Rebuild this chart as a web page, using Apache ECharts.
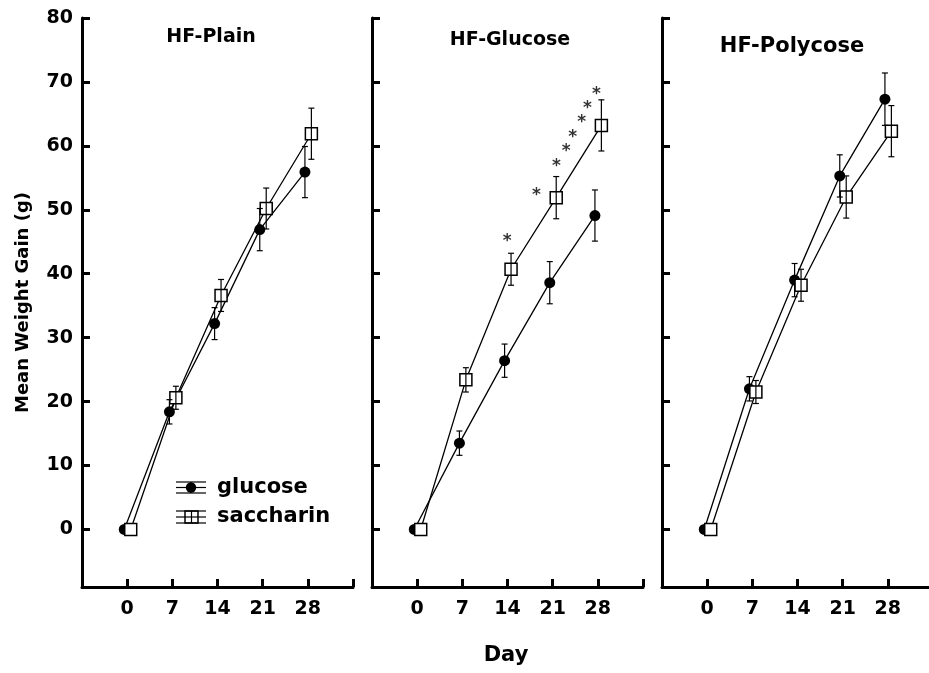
<!DOCTYPE html>
<html>
<head>
	<meta charset="utf-8"/>
	<title>Mean Weight Gain</title>
	<style>
		html, body {
			margin: 0;
			padding: 0;
			background: #fff;
			overflow: hidden;
		}
		/* a little wider than the window: the last panel's axis runs off the right edge */
		#chart {
			width: 940px;
			height: 673px;
		}
	</style>
</head>
<body>
	<div id="chart"></div>

	<script src="https://cdn.jsdelivr.net/npm/echarts@6/dist/echarts.min.js"></script>
	<script>
		// measurement days
		const days = [0, 7, 14, 21, 28];
		const panelTitles = ['HF-Plain', 'HF-Glucose', 'HF-Polycose'];

		// HF-Plain
		const plainGlucose = [0, 18.4, 32.2, 46.9, 55.9];
		const plainGlucoseErr = [0, 1.9, 2.5, 3.3, 4.0];
		const plainSaccharin = [0, 20.6, 36.6, 50.2, 61.9];
		const plainSaccharinErr = [0, 1.8, 2.5, 3.2, 4.0];

		// HF-Glucose
		const glucGlucose = [0, 13.5, 26.4, 38.6, 49.1];
		const glucGlucoseErr = [0, 1.9, 2.6, 3.3, 4.0];
		const glucSaccharin = [0, 23.4, 40.7, 51.9, 63.2];
		const glucSaccharinErr = [0, 1.9, 2.5, 3.3, 4.0];

		// HF-Polycose
		const polyGlucose = [0, 22.0, 39.0, 55.3, 67.3];
		const polyGlucoseErr = [0, 1.9, 2.6, 3.3, 4.1];
		const polySaccharin = [0, 21.5, 38.2, 52.0, 62.3];
		const polySaccharinErr = [0, 1.8, 2.5, 3.3, 4.0];

		// significance marks in the HF-Glucose panel (day, gain)
		const starDays = [13.95, 18.5, 21.6, 23.1, 24.1, 25.5, 26.4, 27.8];
		const starGains = [45.7, 52.8, 57.4, 59.8, 62.0, 64.2, 66.4, 68.6];

		const FONT = 'DejaVu Sans';
		// the two groups are drawn a little apart on the day axis
		const GLU_SHIFT = -0.45;
		const SAC_SHIFT = 0.55;

		const panels = [
			{glu: plainGlucose, gluErr: plainGlucoseErr, sac: plainSaccharin, sacErr: plainSaccharinErr},
			{glu: glucGlucose, gluErr: glucGlucoseErr, sac: glucSaccharin, sacErr: glucSaccharinErr},
			{glu: polyGlucose, gluErr: polyGlucoseErr, sac: polySaccharin, sacErr: polySaccharinErr}
		];
		const gridLefts = [82, 372, 662];

		const axisLineStyle = {color: '#000', width: 3};

		function errorBarItem(params, api){
			const x = api.value(0);
			const lo = api.coord([x, api.value(1)]);
			const hi = api.coord([x, api.value(2)]);
			const half = 3;
			const style = {stroke: '#000', lineWidth: 1.2};
			return {
				type: 'group',
				children: [
					{type: 'line', shape: {x1: hi[0], y1: hi[1], x2: lo[0], y2: lo[1]}, style: style},
					{type: 'line', shape: {x1: hi[0] - half, y1: hi[1], x2: hi[0] + half, y2: hi[1]}, style: style},
					{type: 'line', shape: {x1: lo[0] - half, y1: lo[1], x2: lo[0] + half, y2: lo[1]}, style: style}
				]
			};
		}

		function errData(vals, errs, shift){
			const out = [];
			days.forEach((d, k) => {
				if(errs[k] > 0) out.push([d + shift, vals[k] - errs[k], vals[k] + errs[k]]);
			});
			return out;
		}

		const grids = [], xAxes = [], yAxes = [], series = [];
		panels.forEach((p, i) => {
			grids.push({left: gridLefts[i], top: 18, width: 271, height: 569});
			xAxes.push({
				gridIndex: i,
				type: 'value',
				min: -7,
				max: 35,
				interval: 7,
				axisLine: {show: true, onZero: false, lineStyle: axisLineStyle},
				axisTick: {show: true, inside: true, length: 8, lineStyle: axisLineStyle},
				axisLabel: {
					margin: 13,
					fontSize: 19,
					fontWeight: 'bold',
					fontFamily: FONT,
					color: '#000',
					formatter: v => (v < 0 || v > 28) ? '' : String(v)
				},
				splitLine: {show: false}
			});
			yAxes.push({
				gridIndex: i,
				type: 'value',
				min: -9,
				max: 80,
				splitNumber: 9,
				name: i === 0 ? 'Mean Weight Gain (g)' : '',
				nameLocation: 'middle',
				nameGap: 50,
				nameTextStyle: {fontSize: 18, fontWeight: 'bold', fontFamily: FONT, color: '#000'},
				axisLine: {show: true, onZero: false, lineStyle: axisLineStyle},
				axisTick: {show: true, inside: true, length: 8, lineStyle: axisLineStyle},
				axisLabel: {
					show: i === 0,
					margin: 9,
					fontSize: 19,
					fontWeight: 'bold',
					fontFamily: FONT,
					color: '#000',
					formatter: v => v < 0 ? '' : String(v)
				},
				splitLine: {show: false}
			});

			series.push({
				type: 'line',
				xAxisIndex: i,
				yAxisIndex: i,
				data: days.map((d, k) => [d + GLU_SHIFT, p.glu[k]]),
				symbol: 'circle',
				symbolSize: 11,
				showSymbol: true,
				showAllSymbol: true,
				itemStyle: {color: '#000'},
				lineStyle: {color: '#000', width: 1.3},
				z: 3
			});
			series.push({
				type: 'custom',
				xAxisIndex: i,
				yAxisIndex: i,
				renderItem: errorBarItem,
				encode: {x: 0, y: [1, 2]},
				data: errData(p.glu, p.gluErr, GLU_SHIFT),
				z: 4
			});
			series.push({
				type: 'line',
				xAxisIndex: i,
				yAxisIndex: i,
				data: days.map((d, k) => [d + SAC_SHIFT, p.sac[k]]),
				symbol: 'rect',
				symbolSize: 12,
				showSymbol: true,
				showAllSymbol: true,
				itemStyle: {color: '#fff', borderColor: '#000', borderWidth: 1.5},
				lineStyle: {color: '#000', width: 1.3},
				z: 3
			});
			series.push({
				type: 'custom',
				xAxisIndex: i,
				yAxisIndex: i,
				renderItem: errorBarItem,
				encode: {x: 0, y: [1, 2]},
				data: errData(p.sac, p.sacErr, SAC_SHIFT),
				z: 5
			});
		});

		// asterisks
		series.push({
			type: 'scatter',
			xAxisIndex: 1,
			yAxisIndex: 1,
			data: starDays.map((d, k) => [d, starGains[k]]),
			symbolSize: 1,
			itemStyle: {color: 'rgba(0,0,0,0)'},
			label: {
				show: true,
				position: 'inside',
				formatter: '*',
				fontSize: 17,
				fontWeight: 'bold',
				fontFamily: FONT,
				color: '#000',
				offset: [0, 4]
			},
			z: 6
		});

		const textStyle = (txt, size) => ({
			text: txt,
			fill: '#000',
			font: `bold ${size}px "${FONT}"`,
			textAlign: 'center',
			textVerticalAlign: 'middle'
		});

		const graphics = [
			{type: 'text', x: 211, y: 37, style: textStyle(panelTitles[0], 19)},
			{type: 'text', x: 510, y: 40, style: textStyle(panelTitles[1], 19)},
			{type: 'text', x: 792, y: 47, style: textStyle(panelTitles[2], 21)},
			{type: 'text', x: 506, y: 656, style: textStyle('Day', 21)},
			// legend: glucose
			{type: 'line', shape: {x1: 176, y1: 482, x2: 206, y2: 482}, style: {stroke: '#000', lineWidth: 1.2}},
			{type: 'line', shape: {x1: 176, y1: 487.5, x2: 206, y2: 487.5}, style: {stroke: '#000', lineWidth: 1.2}},
			{type: 'line', shape: {x1: 176, y1: 493, x2: 206, y2: 493}, style: {stroke: '#000', lineWidth: 1.2}},
			{type: 'line', shape: {x1: 191, y1: 482, x2: 191, y2: 493}, style: {stroke: '#000', lineWidth: 1.2}},
			{type: 'circle', shape: {cx: 191, cy: 487.5, r: 5.2}, style: {fill: '#000'}},
			{type: 'text', x: 217, y: 488, style: Object.assign(textStyle('glucose', 21), {textAlign: 'left'})},
			// legend: saccharin
			{type: 'rect', shape: {x: 185, y: 511, width: 13, height: 12}, style: {fill: '#fff', stroke: '#000', lineWidth: 1.5}},
			{type: 'line', shape: {x1: 176, y1: 511, x2: 206, y2: 511}, style: {stroke: '#000', lineWidth: 1.2}},
			{type: 'line', shape: {x1: 176, y1: 517, x2: 206, y2: 517}, style: {stroke: '#000', lineWidth: 1.2}},
			{type: 'line', shape: {x1: 176, y1: 523, x2: 206, y2: 523}, style: {stroke: '#000', lineWidth: 1.2}},
			{type: 'line', shape: {x1: 191.5, y1: 511, x2: 191.5, y2: 523}, style: {stroke: '#000', lineWidth: 1.2}},
			{type: 'text', x: 217, y: 517, style: Object.assign(textStyle('saccharin', 21), {textAlign: 'left'})}
		];

		const chart = echarts.init(document.getElementById('chart'), null, {renderer: 'canvas'});
		chart.setOption({
			animation: false,
			backgroundColor: '#fff',
			grid: grids,
			xAxis: xAxes,
			yAxis: yAxes,
			series: series,
			graphic: graphics
		});
	</script>
</body>
</html>
